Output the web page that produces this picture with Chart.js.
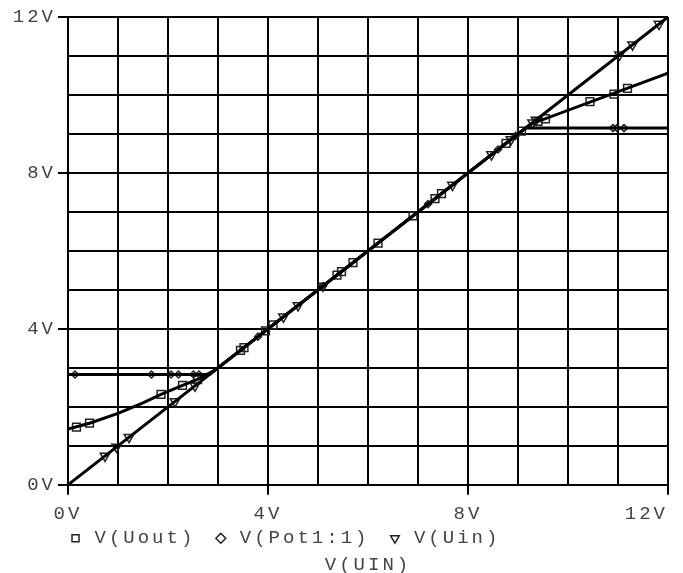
<!DOCTYPE html>
<html>
<head>
<meta charset="utf-8">
<script src="https://cdn.jsdelivr.net/npm/chart.js@4"></script>
<style>
  html, body { margin: 0; padding: 0; background: #fff; }
  #wrap { width: 683px; height: 573px; }
</style>
</head>
<body>
<div id="wrap"><canvas id="plot" width="683" height="573"></canvas></div>
<script>
// DC sweep of V(UIN)
const xTickLabels = ['0V', '4V', '8V', '12V'];
const yTickLabels = ['0V', '4V', '8V', '12V'];

// V(Uout) trace corners and square markers
const uoutX = [0, 0.43, 1, 1.5, 1.86, 2.29, 2.6, 2.95, 9.25, 12];
const uoutY = [1.43, 1.58, 1.83, 2.1, 2.32, 2.55, 2.71, 2.95, 9.25, 10.56];
const uoutMarkX = [0.17, 0.43, 1.86, 2.29, 2.59, 3.45, 3.52, 3.95, 4.1, 5.38, 5.47, 5.7, 6.2, 6.9, 7.34, 7.47, 8.76, 9.07, 9.4, 9.55, 10.44, 10.92, 11.19];
const uoutMarkY = [1.48, 1.58, 2.32, 2.55, 2.7, 3.45, 3.52, 3.95, 4.1, 5.38, 5.47, 5.7, 6.2, 6.9, 7.34, 7.47, 8.76, 9.07, 9.32, 9.39, 9.83, 10.02, 10.17];

// V(Pot1:1) trace corners and diamond markers
const potX = [0, 2.83, 9.15, 12];
const potY = [2.83, 2.83, 9.15, 9.15];
const potMarkX = [0.14, 1.67, 2.06, 2.21, 2.51, 2.62, 3.8, 5.1, 7.2, 8.6, 8.95, 10.9, 10.98, 11.12];
const potMarkY = [2.83, 2.83, 2.83, 2.83, 2.83, 2.83, 3.8, 5.1, 7.2, 8.6, 8.95, 9.15, 9.15, 9.15];

// V(Uin) trace and triangle markers
const uinX = [0, 12];
const uinY = [0, 12];
const uinMarkX = [0.74, 0.97, 1.22, 2.14, 2.54, 4.31, 4.6, 5.1, 7.69, 8.47, 8.86, 9.29, 9.36, 11.03, 11.29, 11.82];
const uinMarkY = [0.74, 0.97, 1.22, 2.14, 2.54, 4.31, 4.6, 5.1, 7.69, 8.47, 8.86, 9.29, 9.36, 11.03, 11.29, 11.82];

function pairs(xs, ys) {
  return xs.map((x, i) => ({ x: x, y: ys[i] }));
}

const FONT = '"Liberation Mono", "DejaVu Sans Mono", monospace';
Chart.defaults.font.family = FONT;
Chart.defaults.font.size = 19;
Chart.defaults.color = '#444';

// wide courier-like spacing of the probe window text
const spacing = {
  id: 'spacing',
  beforeUpdate(chart) { chart.ctx.letterSpacing = '3px'; },
  beforeDraw(chart) { chart.ctx.letterSpacing = '3px'; }
};

// tick labels hang outside the narrow axis boxes, so let them show
const labelRoom = {
  id: 'labelRoom',
  afterLayout(chart) {
    chart.scales.y.left = 0;
    chart.scales.x.bottom = chart.height;
  }
};

function traceSet(xs, ys) {
  return {
    label: '',
    data: pairs(xs, ys),
    showLine: true,
    borderColor: '#000',
    borderWidth: 3,
    pointRadius: 0,
    tension: 0
  };
}

function markSet(label, xs, ys, style, radius, rotation) {
  return {
    label: label,
    data: pairs(xs, ys),
    showLine: false,
    pointStyle: style,
    pointRadius: radius,
    pointRotation: rotation,
    pointBorderColor: '#222',
    pointBackgroundColor: 'rgba(255,255,255,0)',
    pointBorderWidth: 1.5
  };
}

const gridOpts = {
  color: '#000',
  lineWidth: 2,
  tickLength: 10,
  tickColor: (ctx) => (ctx.tick && ctx.tick.value % 4 === 0) ? '#000' : 'rgba(0,0,0,0)'
};

new Chart(document.getElementById('plot'), {
  type: 'scatter',
  data: {
    datasets: [
      traceSet(uoutX, uoutY),
      traceSet(potX, potY),
      traceSet(uinX, uinY),
      markSet('V(Uout)', uoutMarkX, uoutMarkY, 'rect', 5.5, 0),
      markSet('V(Pot1:1)', potMarkX, potMarkY, 'rectRot', 3.5, 0),
      markSet('V(Uin)', uinMarkX, uinMarkY, 'triangle', 5.5, 180)
    ]
  },
  options: {
    responsive: false,
    animation: false,
    layout: { padding: { left: 50, right: 15, top: 17, bottom: 0 } },
    scales: {
      x: {
        type: 'linear',
        min: 0,
        max: 12,
        grid: gridOpts,
        border: { color: '#000', width: 2 },
        ticks: {
          stepSize: 1,
          autoSkip: false,
          maxRotation: 0,
          minRotation: 0,
          padding: 8,
          // last label sits flush with the right edge
          callback: (v) => {
            if (v % 4 !== 0) return '';
            const s = xTickLabels[v / 4];
            return v === 12 ? s + '   ' : s;
          }
        },
        afterFit: (scale) => {
          scale.height = 28;
          scale.paddingLeft = 0;
          scale.paddingRight = 0;
        }
      },
      y: {
        type: 'linear',
        min: 0,
        max: 12,
        grid: gridOpts,
        border: { color: '#000', width: 2 },
        ticks: {
          stepSize: 1,
          autoSkip: false,
          padding: 2,
          callback: (v) => v % 4 === 0 ? yTickLabels[v / 4] : ''
        },
        afterFit: (scale) => {
          scale.width = 18;
          scale.paddingTop = 0;
          scale.paddingBottom = 0;
        }
      }
    },
    plugins: {
      tooltip: { enabled: false },
      legend: {
        position: 'bottom',
        align: 'start',
        labels: {
          usePointStyle: true,
          boxWidth: 19,
          boxHeight: 7,
          padding: 16,
          color: '#444',
          filter: (item) => item.text !== ''
        }
      },
      title: {
        display: true,
        text: 'V(UIN)',
        position: 'bottom',
        fullSize: false,
        color: '#444',
        font: { weight: 'normal', size: 19, lineHeight: 0.8 },
        padding: 0
      }
    }
  },
  plugins: [spacing, labelRoom]
});
</script>
</body>
</html>
